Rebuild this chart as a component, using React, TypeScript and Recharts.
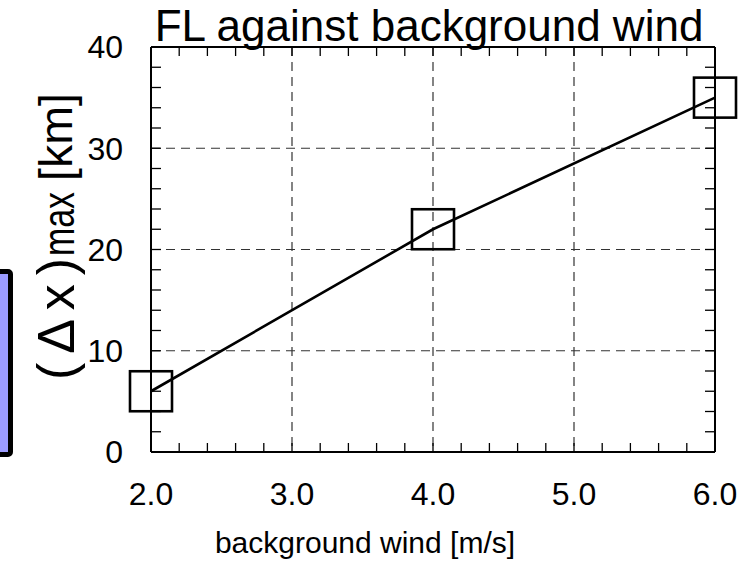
import React from 'react';
import { LineChart, Line, XAxis, YAxis, CartesianGrid, Customized } from 'recharts';

// ---- data ----
const windSpeeds = [2.0, 4.0, 6.0];
const deltaXMax = [6, 22, 35];
const xMajorTicks = [2, 3, 4, 5, 6];
const yMajorTicks = [0, 10, 20, 30, 40];
const xMinorTicks = [2, 2.2, 2.4, 2.6, 2.8, 3, 3.2, 3.4, 3.6, 3.8, 4, 4.2, 4.4, 4.6, 4.8, 5, 5.2, 5.4, 5.6, 5.8, 6];
const yMinorTicks = [0, 2, 4, 6, 8, 10, 12, 14, 16, 18, 20, 22, 24, 26, 28, 30, 32, 34, 36, 38, 40];
const titleText = 'FL against background wind';
const xLabelText = 'background wind [m/s]';
const yLabelParts = ['(\u0394x)', 'max', '[km]'];

const data = windSpeeds.map((w, i) => ({ wind: w, dx: deltaXMax[i] }));

const FONT = '"Liberation Sans", Arial, Helvetica, sans-serif';

const SquareDot = (props: any) => {
  const { cx, cy } = props;
  if (cx == null || cy == null) return null;
  return (
    <rect x={cx - 21} y={cy - 20} width={42} height={40} fill="none" stroke="#000" strokeWidth={2.6} />
  );
};

const NoLabel = () => <g />;

const Labels = () => (
  <g fontFamily={FONT} fill="#000">
    <text x={429} y={41} fontSize={44} textAnchor="middle">{titleText}</text>
    <text x={365} y={553} fontSize={30} textAnchor="middle">{xLabelText}</text>
    <g transform="translate(74, 0) rotate(-90)">
      <text x={-380} y={0} fontSize={52} textLength={122} lengthAdjust="spacing">{yLabelParts[0]}</text>
      <text x={-256} y={0} fontSize={44} textLength={64} lengthAdjust="spacingAndGlyphs">{yLabelParts[1]}</text>
      <text x={-181} y={-2} fontSize={46} textLength={88} lengthAdjust="spacingAndGlyphs">{yLabelParts[2]}</text>
    </g>
  </g>
);

const tickStyle = { fontSize: 32, fill: '#000', fontFamily: FONT };
const frame = { stroke: '#000', strokeWidth: 2 };
const minorLine = { stroke: '#000', strokeWidth: 1.3 };

export default function App() {
  return (
    <div style={{ position: 'absolute', left: 0, top: 0, width: 754, height: 564, overflow: 'hidden', background: '#fff' }}>
      <div
        style={{
          position: 'absolute',
          left: -12,
          top: 269,
          width: 25,
          height: 188,
          boxSizing: 'border-box',
          background: '#9c9cff',
          border: '5px solid #000',
          borderRadius: 5,
        }}
      />
      <LineChart width={754} height={564} data={data} margin={{ top: 47, right: 39, bottom: 0, left: 0 }}>
        <CartesianGrid xAxisId="x" yAxisId="y" stroke="#333" strokeWidth={1.2} strokeDasharray="9 6" />
        <XAxis
          xAxisId="x"
          dataKey="wind"
          type="number"
          domain={[2, 6]}
          ticks={xMajorTicks}
          interval={0}
          tickFormatter={(v: number) => v.toFixed(1)}
          height={112}
          tickLine={false}
          tickSize={0}
          tickMargin={30}
          axisLine={frame}
          tick={tickStyle}
        />
        <XAxis
          xAxisId="xb"
          dataKey="wind"
          type="number"
          domain={[2, 6]}
          ticks={xMinorTicks}
          interval={0}
          orientation="bottom"
          mirror
          height={20}
          tick={NoLabel}
          axisLine={false}
          tickSize={9}
          tickLine={minorLine}
        />
        <XAxis
          xAxisId="xt"
          dataKey="wind"
          type="number"
          domain={[2, 6]}
          ticks={xMinorTicks}
          interval={0}
          orientation="top"
          mirror
          height={20}
          tick={NoLabel}
          axisLine={frame}
          tickSize={9}
          tickLine={minorLine}
        />
        <YAxis
          yAxisId="y"
          type="number"
          domain={[0, 40]}
          ticks={yMajorTicks}
          interval={0}
          width={151}
          tickLine={false}
          tickSize={0}
          tickMargin={28}
          axisLine={frame}
          tick={tickStyle}
        />
        <YAxis
          yAxisId="yl"
          type="number"
          domain={[0, 40]}
          ticks={yMinorTicks}
          interval={0}
          orientation="left"
          mirror
          width={20}
          tick={NoLabel}
          axisLine={false}
          tickSize={10}
          tickLine={minorLine}
        />
        <YAxis
          yAxisId="yr"
          type="number"
          domain={[0, 40]}
          ticks={yMinorTicks}
          interval={0}
          orientation="right"
          mirror
          width={20}
          tick={NoLabel}
          axisLine={frame}
          tickSize={10}
          tickLine={minorLine}
        />
        <Line
          xAxisId="xb"
          yAxisId="yl"
          dataKey="dx"
          stroke="none"
          dot={false}
          activeDot={false}
          legendType="none"
          isAnimationActive={false}
        />
        <Line
          xAxisId="xt"
          yAxisId="yr"
          dataKey="dx"
          stroke="none"
          dot={false}
          activeDot={false}
          legendType="none"
          isAnimationActive={false}
        />
        <Line
          xAxisId="x"
          yAxisId="y"
          dataKey="dx"
          type="linear"
          stroke="#000"
          strokeWidth={2.6}
          dot={<SquareDot />}
          activeDot={false}
          isAnimationActive={false}
        />
        <Customized component={Labels} />
      </LineChart>
    </div>
  );
}
